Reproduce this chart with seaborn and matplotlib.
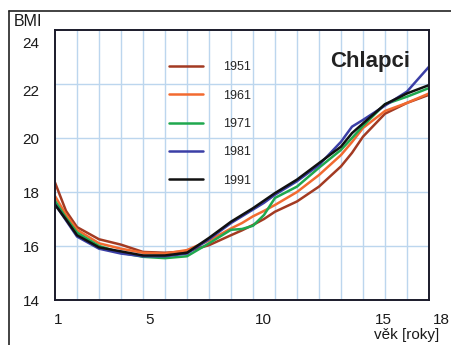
import numpy as np
import pandas as pd
import matplotlib
matplotlib.use("Agg")
import matplotlib.pyplot as plt
import matplotlib.transforms as mtrans
import seaborn as sns
from matplotlib.lines import Line2D

ages = [1, 1.5, 2, 3, 4, 5, 6, 7, 8, 9, 9.5, 10, 10.5, 11, 12, 13, 14, 14.5, 15, 16, 17, 18]
bmi_1951 = [18.35, 17.3, 16.7, 16.25, 16.05, 15.78, 15.75, 15.8, 16.03, 16.4, 16.58, 16.78, 17.0, 17.27, 17.65, 18.2, 18.95, 19.45, 20.05, 20.9, 21.3, 21.6]
bmi_1961 = [17.85, 17.16, 16.6, 16.1, 15.9, 15.75, 15.72, 15.85, 16.2, 16.65, 16.85, 17.1, 17.3, 17.52, 18.0, 18.63, 19.37, 19.85, 20.37, 21.0, 21.3, 21.65]
bmi_1971 = [17.67, 17.04, 16.5, 16.0, 15.75, 15.6, 15.55, 15.62, 16.1, 16.6, 16.63, 16.75, 17.15, 17.78, 18.2, 18.9, 19.56, 20.0, 20.45, 21.25, 21.53, 21.85]
bmi_1981 = [17.55, 16.95, 16.35, 15.9, 15.72, 15.62, 15.62, 15.72, 16.25, 16.85, 17.1, 17.35, 17.6, 17.9, 18.4, 19.0, 19.86, 20.42, 20.67, 21.2, 21.72, 22.64]
bmi_1991 = [17.53, 16.98, 16.4, 15.95, 15.8, 15.65, 15.65, 15.75, 16.3, 16.9, 17.15, 17.4, 17.68, 17.96, 18.46, 19.07, 19.68, 20.18, 20.54, 21.25, 21.65, 21.96]

years = ["1951", "1961", "1971", "1981", "1991"]
series = [bmi_1951, bmi_1961, bmi_1971, bmi_1981, bmi_1991]
colors = ["#a33a22", "#f26a30", "#1fa84e", "#3b3fa6", "#111111"]

x_ticks = [1, 5, 10, 15, 18]
y_ticks = [14, 16, 18, 20, 22, 24]

df = pd.DataFrame({
    "age": np.tile(ages, len(years)),
    "bmi": np.concatenate(series),
    "year": np.repeat(years, len(ages)),
})

sns.set_theme(style="white")
plt.rcParams["font.family"] = ["Liberation Sans", "DejaVu Sans"]

fig = plt.figure(figsize=(4.52, 3.45), dpi=100)
ax = fig.add_axes([55/452, 45/345, 374/452, 270/345])

# light blue grid
for a in range(2, 18):
    ax.axvline(a, color="#bcd6ee", lw=1.0, zorder=0)
for b in range(16, 24, 2):
    ax.axhline(b, color="#bcd6ee", lw=1.0, zorder=0)

sns.lineplot(data=df, x="age", y="bmi", hue="year", palette=dict(zip(years, colors)),
             linewidth=1.8, ax=ax, legend=False, sort=False)

ax.set_xlim(1, 18)
ax.set_ylim(14, 24)
ax.set_xticks(x_ticks)
ax.set_yticks(y_ticks)
ax.set_xticklabels([str(t) for t in x_ticks])
ax.set_yticklabels([str(t) for t in y_ticks])
ax.tick_params(axis="both", length=0, labelsize=11, colors="#1a1a1a")
ax.tick_params(axis="x", pad=9)
ax.tick_params(axis="y", pad=11)
ax.set_xlabel("")
ax.set_ylabel("")
for s in ax.spines.values():
    s.set_color("#1a1a2a")
    s.set_linewidth(1.4)

# small hand-drawn offsets of tick labels as in the original chart (pixels)
x_off = [3, 7, 10, 20, 12]
y_off = [0, 0, 0, 0, -6, -12]
for tick, dx in zip(ax.xaxis.get_major_ticks(), x_off):
    lab = tick.label1
    lab.set_transform(lab.get_transform() + mtrans.ScaledTranslation(dx/100, 0, fig.dpi_scale_trans))
for tick, dy in zip(ax.yaxis.get_major_ticks(), y_off):
    lab = tick.label1
    lab.set_transform(lab.get_transform() + mtrans.ScaledTranslation(0, dy/100, fig.dpi_scale_trans))

handles = [Line2D([0], [0], color=c, lw=1.8) for c in colors]
leg = ax.legend(handles, years, loc="upper left", bbox_to_anchor=(0.275, 0.925),
                frameon=False, fontsize=9, handlelength=2.7, handletextpad=1.6,
                labelspacing=1.3)

ax.text(0.735, 0.885, "Chlapci", transform=ax.transAxes, fontsize=16,
        fontweight="bold", color="#222222", va="center", ha="left")

fig.text(14/452, 1 - 21/345, "BMI", fontsize=11.5, va="center", ha="left", color="#1a1a1a")
fig.text(439/452, 1 - 335/345, "věk [roky]", fontsize=11, va="center", ha="right", color="#1a1a1a")

# outer frame (top and left edges)
fig.add_artist(Line2D([9/452, 1], [1 - 11/345, 1 - 11/345], transform=fig.transFigure, color="#222222", lw=1.2))
fig.add_artist(Line2D([9/452, 9/452], [0, 1 - 11/345], transform=fig.transFigure, color="#222222", lw=1.2))

fig.savefig("out.png", dpi=100)
